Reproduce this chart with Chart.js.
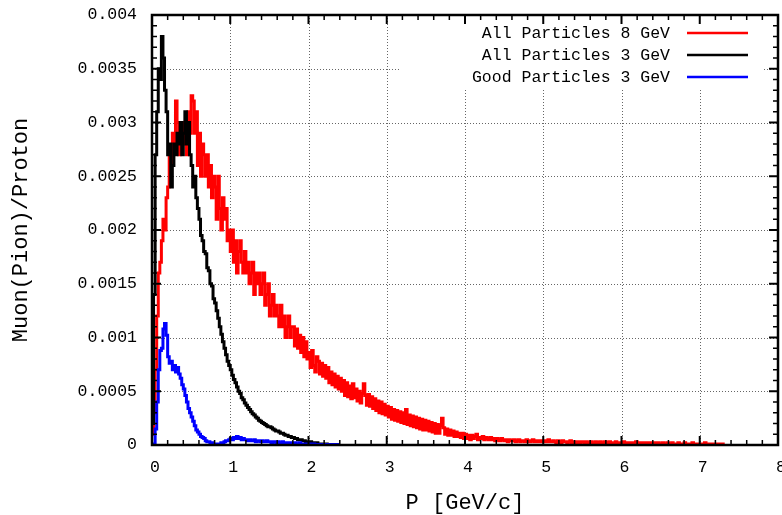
<!DOCTYPE html>
<html>
<head>
<meta charset="utf-8">
<script src="https://cdn.jsdelivr.net/npm/chart.js@4.4.1/dist/chart.umd.min.js"></script>
<style>
html, body { margin: 0; padding: 0; background: #fff; }
canvas { display: block; }
</style>
</head>
<body>
<canvas id="myChart" width="782" height="515"></canvas>
<script>
// histogram bin width in GeV/c, values are per bin (bin centres at (i + 0.5) * BIN_WIDTH)
const BIN_WIDTH = 0.02;

const seriesLabels = ['All Particles 8 GeV', 'All Particles 3 GeV', 'Good Particles 3 GeV'];
const seriesColors = ['#ff0000', '#000000', '#0000ff'];

// one row = 0.2 GeV/c
const allParticles8GeV = [
    0.0001, 0.0003, 0.0007, 0.0012, 0.0016, 0.0017, 0.0019, 0.0021, 0.0020, 0.0023,
    0.0024, 0.0027, 0.0026, 0.0029, 0.0028, 0.0032, 0.0030, 0.0027, 0.0029, 0.0030,
    0.0028, 0.0030, 0.0027, 0.0031, 0.0029, 0.00325, 0.0032, 0.0029, 0.0031, 0.0026,
    0.0029, 0.0025, 0.0028, 0.0027, 0.0025, 0.0027, 0.0024, 0.0026, 0.0023, 0.0025,
    0.0024, 0.0021, 0.0025, 0.0022, 0.0020, 0.0023, 0.0021, 0.0022, 0.0019, 0.0020,
    0.0018, 0.0020, 0.0017, 0.0019, 0.0016, 0.0018, 0.0019, 0.0017, 0.0016, 0.0018,
    0.0016, 0.0017, 0.0015, 0.0016, 0.0017, 0.0014, 0.0016, 0.0015, 0.0016, 0.0014,
    0.0015, 0.0016, 0.0013, 0.0014, 0.0015, 0.0012, 0.0013, 0.0014, 0.0012, 0.0013,
    0.0012, 0.0011, 0.0013, 0.0011, 0.0012, 0.0010, 0.0011, 0.0012, 0.0010, 0.0011,
    0.0011, 0.00092, 0.00108, 0.00090, 0.00102, 0.00086, 0.00100, 0.00082, 0.00096, 0.00080,
    0.00086, 0.00072, 0.00088, 0.00074, 0.00068, 0.00082, 0.00078, 0.00066, 0.00076, 0.00064,
    0.00074, 0.00062, 0.00072, 0.00058, 0.00068, 0.00056, 0.00066, 0.00054, 0.00064, 0.00052,
    0.00062, 0.00050, 0.00060, 0.00046, 0.00058, 0.00045, 0.00055, 0.00043, 0.00057, 0.00044,
    0.00052, 0.00041, 0.00050, 0.00039, 0.00048, 0.00057, 0.00046, 0.00037, 0.00047, 0.00036,
    0.00045, 0.00034, 0.00043, 0.00032, 0.00041, 0.00030, 0.00040, 0.00029, 0.00038, 0.00028,
    0.00036, 0.00026, 0.00035, 0.00024, 0.00033, 0.00023, 0.00032, 0.00022, 0.00031, 0.00021,
    0.00030, 0.00020, 0.00033, 0.00019, 0.00028, 0.00018, 0.00027, 0.00017, 0.00026, 0.00016,
    0.00025, 0.00015, 0.00024, 0.00014, 0.00023, 0.00014, 0.00022, 0.00013, 0.00021, 0.00012,
    0.00020, 0.00011, 0.00019, 0.00011, 0.00018, 0.00025, 0.00016, 0.00010, 0.00015, 0.00009,
    0.00014, 0.00009, 0.00013, 0.00008, 0.00012, 0.00008, 0.00011, 0.00007, 0.00011, 0.00006,
    0.00010, 0.00006, 0.00009, 0.00005, 0.00009, 0.00006, 0.00008, 0.00010, 0.00005, 0.00007,
    0.00006, 0.00008, 0.00005, 0.00007, 0.00006, 0.00005, 0.00007, 0.00005, 0.00006, 0.00004,
    0.00006, 0.00005, 0.00004, 0.00006, 0.00005, 0.00004, 0.00005, 0.00003, 0.00005, 0.00004,
    0.00004, 0.00005, 0.00003, 0.00004, 0.00005, 0.00003, 0.00004, 0.00004, 0.00003, 0.00005,
    0.00004, 0.00003, 0.00004, 0.00005, 0.00003, 0.00004, 0.00003, 0.00004, 0.00003, 0.00004,
    0.00003, 0.00004, 0.00003, 0.00005, 0.00003, 0.00003, 0.00004, 0.00003, 0.00002, 0.00004,
    0.00003, 0.00002, 0.00004, 0.00003, 0.00003, 0.00002, 0.00003, 0.00004, 0.00002, 0.00003,
    0.00003, 0.00002, 0.00003, 0.00002, 0.00003, 0.00003, 0.00002, 0.00003, 0.00002, 0.00002,
    0.00003, 0.00002, 0.00002, 0.00003, 0.00002, 0.00002, 0.00003, 0.00002, 0.00002, 0.00003,
    0.00002, 0.00002, 0.00003, 0.00002, 0.00002, 0.00002, 0.00003, 0.00002, 0.00001, 0.00002,
    0.00002, 0.00003, 0.00002, 0.00001, 0.00002, 0.00002, 0.00001, 0.00002, 0.00002, 0.00003,
    0.00002, 0.00001, 0.00002, 0.00002, 0.00001, 0.00002, 0.00001, 0.00002, 0.00002, 0.00001,
    0.00001, 0.00002, 0.00001, 0.00002, 0.00001, 0.00001, 0.00002, 0.00001, 0.00001, 0.00002,
    0.00001, 0.00001, 0.00002, 0.00001, 0.00001, 0.00001, 0.00002, 0.00001, 0.00001, 0.00001,
    0.00002, 0.00001, 0.00001, 0.00001, 0.00001, 0.00002, 0.00001, 0.00001, 0.00001, 0.00001,
    0.00001, 0.00001, 0.00001, 0.00002, 0.00001, 0.00001, 0.00001, 0.00001, 0.00001, 0.00001,
    0.00001, 0.00001, 0.00001, 0.00001, 0.00001, 0.000005
];

const allParticles3GeV = [
    0.0002, 0.0014, 0.0027, 0.0031, 0.0035, 0.0034, 0.0038, 0.0036, 0.0033, 0.0031,
    0.0027, 0.0028, 0.0024, 0.0026, 0.0028, 0.0027, 0.0029, 0.0028, 0.0030, 0.0027,
    0.0029, 0.0031, 0.0028, 0.0030, 0.0027, 0.0026, 0.0024, 0.0025, 0.0023, 0.0022,
    0.0021, 0.00195, 0.0019, 0.0018, 0.00178, 0.00165, 0.00162, 0.0015, 0.00148, 0.00136,
    0.00132, 0.00125, 0.00118, 0.0011, 0.00103, 0.00096, 0.0009, 0.00084, 0.00078, 0.00074,
    0.0007, 0.00065, 0.00061, 0.00058, 0.00054, 0.0005, 0.00048, 0.00044, 0.00042, 0.00039,
    0.00037, 0.00035, 0.00033, 0.00031, 0.00029, 0.00028, 0.00026, 0.00025, 0.00023, 0.00022,
    0.00021, 0.0002, 0.00019, 0.00018, 0.00017, 0.00017, 0.00016, 0.00015, 0.00014, 0.00013,
    0.00013, 0.00012, 0.00011, 0.00011, 0.0001, 0.00009, 0.00009, 0.00008, 0.00008, 0.00007,
    0.00007, 0.00006, 0.00006, 0.00005, 0.00005, 0.00005, 0.00004, 0.00004, 0.00003, 0.00003,
    0.00003, 0.00003, 0.00002, 0.00002, 0.00002, 0.00002, 0.00001, 0.00001, 0.00001, 0.00001,
    0.00001, 0.00001, 0.000005, 0.000005, 0.000005
];

const goodParticles3GeV = [
    0, 0.00001, 0.00015, 0.0004, 0.0007, 0.00088, 0.0009, 0.00108, 0.00113, 0.00102,
    0.00082, 0.00076, 0.00078, 0.0007, 0.00074, 0.00068, 0.00072, 0.00066, 0.00062, 0.00056,
    0.00052, 0.00046, 0.0004, 0.00034, 0.0003, 0.00026, 0.00022, 0.00018, 0.00014, 0.00012,
    0.0001, 0.00008, 0.00007, 0.00006, 0.00004, 0.00003, 0.00003, 0.00002, 0.00002, 0.00001,
    0.00001, 0.00001, 0.00001, 0.00001, 0.00002, 0.00002, 0.00003, 0.00004, 0.00004, 0.00005,
    0.00006, 0.00005, 0.00007, 0.00006, 0.00008, 0.00006, 0.00007, 0.00005, 0.00006, 0.00005,
    0.00005, 0.00004, 0.00005, 0.00004, 0.00004, 0.00005, 0.00003, 0.00004, 0.00004, 0.00003,
    0.00004, 0.00003, 0.00003, 0.00004, 0.00003, 0.00003, 0.00002, 0.00003, 0.00003, 0.00002,
    0.00003, 0.00002, 0.00002, 0.00003, 0.00002, 0.00002, 0.00002, 0.00001, 0.00002, 0.00002,
    0.00001, 0.00002, 0.00001, 0.00001, 0.00002, 0.00001, 0.00001, 0.00001, 0.00001, 0.00001,
    0.00001, 0.00001, 0.000005, 0.00001, 0.000005, 0.000005, 0.000005, 0.000005, 0.000005, 0.000005,
    0.000005, 0.000005, 0.000005, 0.000005, 0.000005, 0.000005, 0.000005, 0.000005, 0.000005, 0.000005
];

const xTicks = [0, 1, 2, 3, 4, 5, 6, 7, 8];
const yTicks = [0, 0.0005, 0.001, 0.0015, 0.002, 0.0025, 0.003, 0.0035, 0.004];

const monoFont = "'Liberation Mono', 'DejaVu Sans Mono', monospace";

function toPoints(values) {
    return values.map((v, i) => ({ x: (i + 0.5) * BIN_WIDTH, y: v }));
}

// gnuplot-like frame: dotted grid, thick border, inward ticks on all sides, key in the corner
const gnuplotFrame = {
    id: 'gnuplotFrame',
    beforeDatasetsDraw(chart) {
        const { ctx, chartArea: a, scales: { x, y } } = chart;
        const key = { left: a.right - 378, right: a.right - 15, top: a.top, bottom: a.top + 73 };
        ctx.save();
        // clip away the key box so grid lines stop there
        ctx.beginPath();
        ctx.rect(a.left, a.top, a.right - a.left, a.bottom - a.top);
        ctx.rect(key.right, key.top, key.left - key.right, key.bottom - key.top);
        ctx.clip('evenodd');
        ctx.strokeStyle = 'rgba(0,0,0,0.6)';
        ctx.lineWidth = 1;
        ctx.setLineDash([1, 2]);
        xTicks.slice(1, -1).forEach(v => {
            const px = Math.round(x.getPixelForValue(v)) + 0.5;
            ctx.beginPath();
            ctx.moveTo(px, a.top);
            ctx.lineTo(px, a.bottom);
            ctx.stroke();
        });
        yTicks.slice(1, -1).forEach(v => {
            const py = Math.round(y.getPixelForValue(v)) + 0.5;
            ctx.beginPath();
            ctx.moveTo(a.left, py);
            ctx.lineTo(a.right, py);
            ctx.stroke();
        });
        ctx.restore();
    },
    afterDatasetsDraw(chart) {
        const { ctx, chartArea: a, scales: { x, y } } = chart;
        ctx.save();
        ctx.strokeStyle = '#000';
        // minor + major ticks, x every 0.2, y every 0.0001
        for (let i = 0; i <= 40; i++) {
            const px = x.getPixelForValue(i * 0.2);
            const len = i % 5 === 0 ? 9 : 5;
            ctx.lineWidth = i % 5 === 0 ? 2 : 1.5;
            ctx.beginPath();
            ctx.moveTo(px, a.bottom);
            ctx.lineTo(px, a.bottom - len);
            ctx.moveTo(px, a.top);
            ctx.lineTo(px, a.top + len);
            ctx.stroke();
        }
        for (let i = 0; i <= 40; i++) {
            const py = y.getPixelForValue(i * 0.0001);
            const len = i % 5 === 0 ? 9 : 5;
            ctx.lineWidth = i % 5 === 0 ? 2 : 1.5;
            ctx.beginPath();
            ctx.moveTo(a.left, py);
            ctx.lineTo(a.left + len, py);
            ctx.moveTo(a.right, py);
            ctx.lineTo(a.right - len, py);
            ctx.stroke();
        }
        ctx.lineWidth = 2.5;
        ctx.strokeRect(a.left, a.top, a.right - a.left, a.bottom - a.top);

        // key
        ctx.font = '16.5px ' + monoFont;
        ctx.textAlign = 'right';
        ctx.textBaseline = 'middle';
        ctx.fillStyle = '#000';
        chart.data.datasets.forEach((ds, i) => {
            const ry = a.top + 18 + i * 22;
            ctx.fillText(ds.label, a.right - 108, ry + 1);
            ctx.strokeStyle = ds.borderColor;
            ctx.lineWidth = 2.5;
            ctx.beginPath();
            ctx.moveTo(a.right - 91, ry);
            ctx.lineTo(a.right - 30, ry);
            ctx.stroke();
        });
        ctx.restore();
    }
};

const ctx = document.getElementById('myChart').getContext('2d');
const seriesValues = [allParticles8GeV, allParticles3GeV, goodParticles3GeV];

const myChart = new Chart(ctx, {
    type: 'line',
    data: {
        datasets: seriesValues.map((vals, i) => ({
            label: seriesLabels[i],
            data: toPoints(vals),
            borderColor: seriesColors[i],
            backgroundColor: seriesColors[i],
            borderWidth: 3,
            pointRadius: 0,
            fill: false,
            stepped: 'middle',
            order: 3 - i
        }))
    },
    options: {
        responsive: false,
        animation: false,
        events: [],
        layout: { padding: { top: 15, right: 4, left: 0, bottom: 0 } },
        plugins: {
            legend: { display: false },
            tooltip: { enabled: false }
        },
        scales: {
            x: {
                type: 'linear',
                min: 0,
                max: 8,
                afterBuildTicks: scale => { scale.ticks = xTicks.map(v => ({ value: v })); },
                afterFit: scale => {
                    scale.height = 70;
                    // let the last tick label hang over the edge like the original
                    scale.paddingLeft = 0;
                    scale.paddingRight = 0;
                },
                grid: { display: false, drawTicks: false },
                border: { display: false },
                ticks: {
                    color: '#000',
                    font: { family: monoFont, size: 16.5 },
                    padding: 13,
                    labelOffset: 3,
                    maxRotation: 0,
                    autoSkip: false
                },
                title: {
                    display: true,
                    text: 'P [GeV/c]',
                    color: '#000',
                    font: { family: monoFont, size: 22, lineHeight: 1 },
                    padding: { top: 0, bottom: 1 }
                }
            },
            y: {
                type: 'linear',
                min: 0,
                max: 0.004,
                afterBuildTicks: scale => { scale.ticks = yTicks.map(v => ({ value: v })); },
                afterFit: scale => {
                    scale.width = 152;
                    scale.paddingTop = 0;
                    scale.paddingBottom = 0;
                },
                grid: { display: false, drawTicks: false },
                border: { display: false },
                ticks: {
                    color: '#000',
                    font: { family: monoFont, size: 16.5 },
                    padding: 15,
                    callback: v => String(parseFloat(Number(v).toFixed(6)))
                },
                title: {
                    display: true,
                    text: 'Muon(Pion)/Proton',
                    color: '#000',
                    font: { family: monoFont, size: 22, lineHeight: 1 },
                    padding: { top: 10, bottom: 0 }
                }
            }
        }
    },
    plugins: [gnuplotFrame]
});
</script>
</body>
</html>
